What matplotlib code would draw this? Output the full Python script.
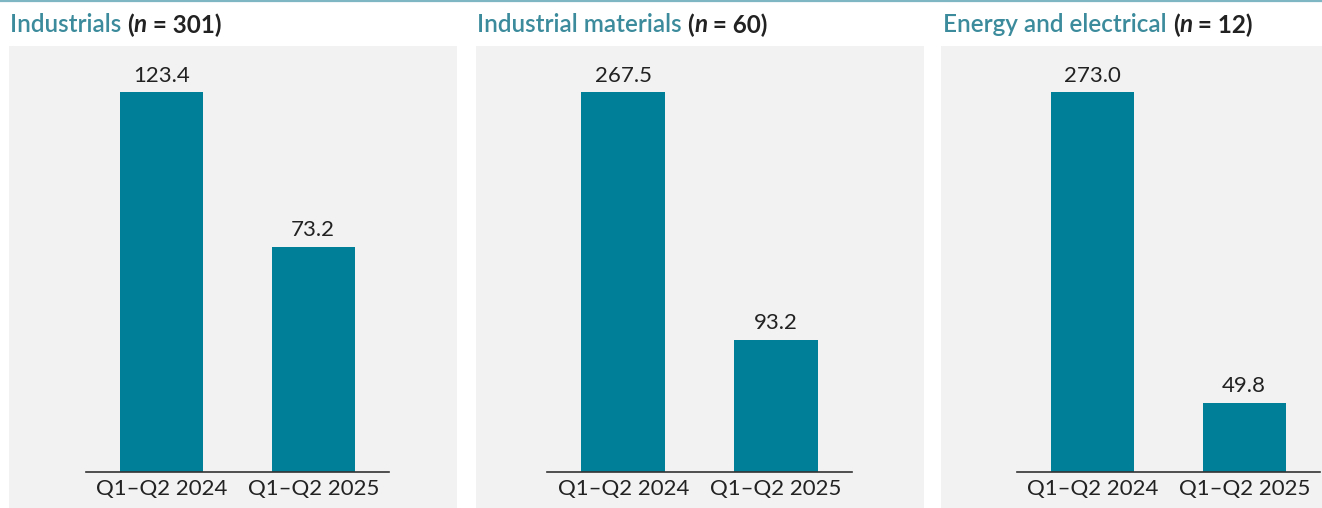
import matplotlib
matplotlib.use("Agg")
import matplotlib.pyplot as plt
from matplotlib.patches import Rectangle
from matplotlib.lines import Line2D

plt.rcParams['font.family'] = ['Lato', 'DejaVu Sans']

# Data
periods = ["Q1–Q2 2024", "Q1–Q2 2025"]
sectors = ["Industrials", "Industrial materials", "Energy and electrical"]
sample_sizes = [301, 60, 12]
industrials = [123.4, 73.2]
industrial_materials = [267.5, 93.2]
energy_electrical = [273.0, 49.8]
series = [industrials, industrial_materials, energy_electrical]

W, H = 1322, 508
fig = plt.figure(figsize=(W / 100, H / 100), dpi=100)
fig.patch.set_facecolor("white")

BAR = "#007f99"
TITLE = "#3b8b9c"
TEXT = "#222222"
PANEL_BG = "#f2f2f2"

# thin rule along the top edge
fig.add_artist(Line2D([0, 1], [1 - 1 / H, 1 - 1 / H], transform=fig.transFigure,
                      color="#7fb6c3", lw=1.6))

panel_bounds = [(9, 457), (476, 924), (941, 1322)]
axis_bounds = [(86, 389), (547, 852), (1017, 1320)]
title_x = [10, 477, 943]

base_y = 472
top_y = 92
panel_top = 46

renderer = fig.canvas.get_renderer()

for i in range(3):
    px0, px1 = panel_bounds[i]
    fig.add_artist(Rectangle((px0 / W, 0), (px1 - px0) / W, (H - panel_top) / H,
                             transform=fig.transFigure, facecolor=PANEL_BG,
                             edgecolor="none", zorder=0))

    ax0, ax1 = axis_bounds[i]
    ax = fig.add_axes([ax0 / W, (H - base_y) / H, (ax1 - ax0) / W, (base_y - top_y) / H])
    ax.patch.set_alpha(0)
    vals = series[i]
    xs = range(len(periods))
    bars = ax.bar(xs, vals, width=0.55, color=BAR, zorder=2)
    ax.set_xlim(-0.5, 1.5)
    ax.set_ylim(0, max(vals))
    for b, v in zip(bars, vals):
        ax.annotate(f"{v:.1f}", (b.get_x() + b.get_width() / 2, v),
                    xytext=(0, 4.5), textcoords="offset points",
                    ha="center", va="bottom", fontsize=16, color=TEXT,
                    annotation_clip=False)
    ax.set_xticks(list(xs))
    ax.set_xticklabels(periods, fontsize=16, color=TEXT)
    ax.tick_params(axis="x", length=0, pad=5)
    ax.set_yticks([])
    for s in ["top", "left", "right"]:
        ax.spines[s].set_visible(False)
    ax.spines["bottom"].set_color("#333333")
    ax.spines["bottom"].set_linewidth(1.2)

    # title: sector name in teal, sample size in dark
    ty = (H - 25) / H
    fs = 17.5
    t1 = fig.text(title_x[i] / W, ty, sectors[i] + " ", color=TITLE, fontsize=fs,
                  fontweight="semibold", va="center", ha="left")
    x = t1.get_window_extent(renderer).x1
    t2 = fig.text(x / W, ty, "(", color=TEXT, fontsize=fs, fontweight="bold",
                  va="center", ha="left")
    x = t2.get_window_extent(renderer).x1
    t3 = fig.text(x / W, ty, "n", color=TEXT, fontsize=fs, fontweight="bold",
                  fontstyle="italic", va="center", ha="left")
    x = t3.get_window_extent(renderer).x1
    fig.text(x / W, ty, f" = {sample_sizes[i]})", color=TEXT, fontsize=fs,
             fontweight="bold", va="center", ha="left")

fig.savefig("out.png", dpi=100)
